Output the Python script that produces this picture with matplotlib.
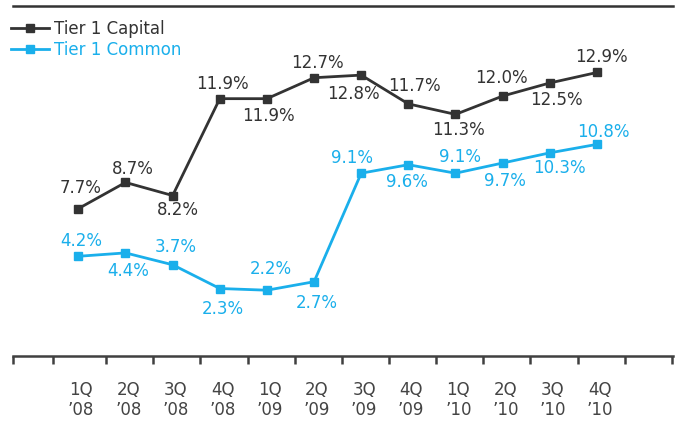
import matplotlib
matplotlib.use("Agg")
import matplotlib.pyplot as plt

plt.rcParams['font.family'] = ['DejaVu Sans']

quarters = ["1Q\n\u201908", "2Q\n\u201908", "3Q\n\u201908", "4Q\n\u201908",
            "1Q\n\u201909", "2Q\n\u201909", "3Q\n\u201909", "4Q\n\u201909",
            "1Q\n\u201910", "2Q\n\u201910", "3Q\n\u201910", "4Q\n\u201910"]
tier1_capital = [7.7, 8.7, 8.2, 11.9, 11.9, 12.7, 12.8, 11.7, 11.3, 12.0, 12.5, 12.9]
tier1_common = [4.2, 4.4, 3.7, 2.3, 2.2, 2.7, 9.1, 9.6, 9.1, 9.7, 10.3, 10.8]

# label offsets in pixels (dx, dy up)
cap_offsets = [(2.5, 21), (7, 13), (5, -14), (3, 15), (2, -17), (3, 15),
               (-8, -19), (6.5, 18), (3, -16), (-1, 18), (7, -17), (5, 15)]
com_offsets = [(3, 15), (3, -18), (3, 18), (3.5, -20), (4, 21), (3, -21),
               (-9, 15), (-1.5, -17), (4.5, 16), (2, -18), (10, -15), (6.5, 12)]

dark = '#333333'
blue = '#1AAFEB'

fig = plt.figure(figsize=(6.81, 4.34), dpi=100)
ax = fig.add_axes([13.3/681, 78/434, 660/681, 350/434])
ax2 = ax.twinx()

x = list(range(len(quarters)))
l1, = ax.plot(x, tier1_capital, color=dark, lw=2, marker='s', ms=6, label='Tier 1 Capital')
l2, = ax2.plot(x, tier1_common, color=blue, lw=2, marker='s', ms=5.5, label='Tier 1 Common')

for i, v in enumerate(tier1_capital):
    ax.annotate('%.1f%%' % v, (i, v), xytext=cap_offsets[i], textcoords='offset pixels',
                ha='center', va='center', fontsize=12, color=dark)
for i, v in enumerate(tier1_common):
    ax2.annotate('%.1f%%' % v, (i, v), xytext=com_offsets[i], textcoords='offset pixels',
                 ha='center', va='center', fontsize=12, color=blue)

ax.set_xlim(-1.38, 12.62)
ax.set_ylim(2.07, 15.44)
ax2.set_ylim(-1.68, 18.96)

for a in (ax, ax2):
    a.spines['left'].set_visible(False)
    a.spines['right'].set_visible(False)
    a.set_yticks([])
    a.spines['top'].set_linewidth(1.8)
    a.spines['top'].set_color('#333333')
    a.spines['bottom'].set_linewidth(1.8)
    a.spines['bottom'].set_color('#404040')
ax2.spines['top'].set_visible(False)
ax2.spines['bottom'].set_visible(False)

seps = [-1.38, -0.53] + [k + 0.59 for k in range(13)]
ax.set_xticks(seps)
ax.set_xticklabels([])
ax.tick_params(axis='x', which='major', length=6, width=1.8, color='#404040', direction='out')
ax.set_xticks([k + 0.06 for k in x], minor=True)
ax.set_xticklabels(quarters, minor=True, fontsize=12, color='#444444', linespacing=1.15)
ax.tick_params(axis='x', which='minor', length=0, pad=18)

leg = ax.legend(handles=[l1, l2], loc='upper left', bbox_to_anchor=(11/681, 1 - 20/434),
                bbox_transform=fig.transFigure, frameon=False, fontsize=12,
                handlelength=2.3, handletextpad=0.3, labelspacing=0.2,
                labelcolor='linecolor', borderaxespad=0, borderpad=0)

fig.savefig('out.png', dpi=100)
